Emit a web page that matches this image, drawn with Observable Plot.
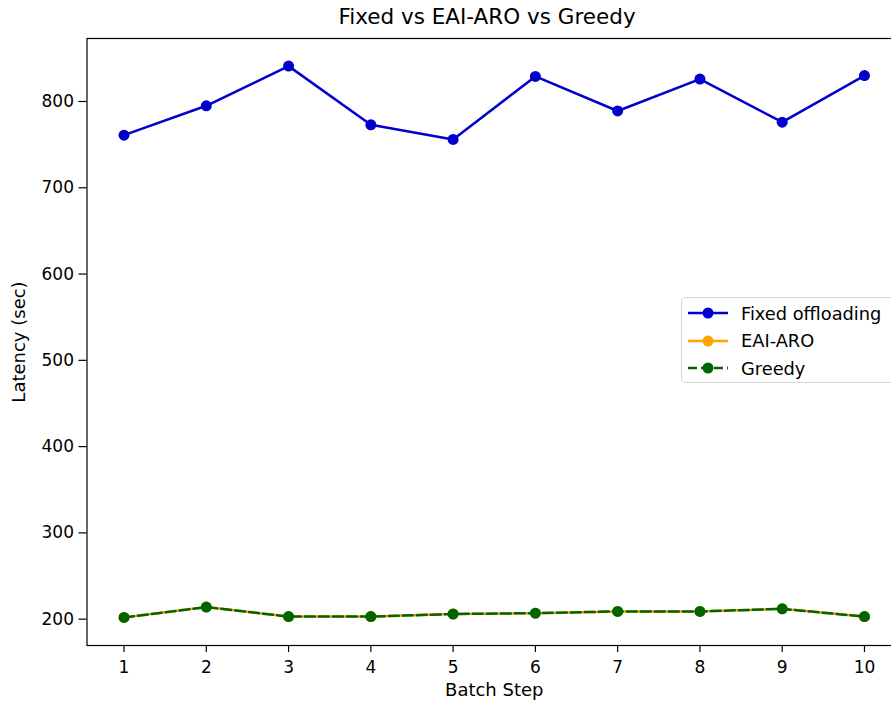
<!DOCTYPE html>
<html>
<head>
<meta charset="utf-8">
<script src="https://cdn.jsdelivr.net/npm/d3@7"></script>
<script src="https://cdn.jsdelivr.net/npm/@observablehq/plot@0.6"></script>
<style>
  html, body { margin: 0; padding: 0; background: #fff; overflow: hidden; }
  #wrap { position: relative; width: 891px; height: 705px; overflow: hidden; font-family: "DejaVu Sans", sans-serif; }
  #title { position: absolute; left: 0; top: 0; width: 974px; height: 30px; text-align: center; font-size: 21.5px; line-height: 34px; color: #000; white-space: nowrap; }
  #chart { position: absolute; left: 0; top: 30px; }
  #legend { position: absolute; left: 681px; top: 297px; width: 240px; height: 86px; border: 1px solid #d5d5d5; border-radius: 4px; background: rgba(255,255,255,0.85); box-sizing: border-box; }
  .row { position: absolute; left: 0; height: 24px; display: flex; align-items: center; font-size: 17.8px; color: #000; white-space: nowrap; }
  .row svg { margin-left: 6px; margin-right: 13px; }
</style>
</head>
<body>
<div id="wrap">
  <div id="title">Fixed vs EAI-ARO vs Greedy</div>
  <div id="chart"></div>
  <div id="legend"></div>
</div>
<script>
const batchSteps = [1, 2, 3, 4, 5, 6, 7, 8, 9, 10];
const fixedLatency = [761, 795, 841, 773, 756, 829, 789, 826, 776, 830];
const eaiAroLatency = [202, 214, 203, 203, 206, 207, 209, 209, 212, 203];
const greedyLatency = [202, 214, 203, 203, 206, 207, 209, 209, 212, 203];
const yTicks = [200, 300, 400, 500, 600, 700, 800];
const seriesNames = ["Fixed offloading", "EAI-ARO", "Greedy"];
const seriesColors = ["mediumblue", "orange", "darkgreen"];
const seriesDash = [null, null, "10,4"];

const fixedData = batchSteps.map((b, i) => ({step: b, latency: fixedLatency[i]}));
const eaiData = batchSteps.map((b, i) => ({step: b, latency: eaiAroLatency[i]}));
const greedyData = batchSteps.map((b, i) => ({step: b, latency: greedyLatency[i]}));

const lw = 2.5, r = 5.5;
const chart = Plot.plot({
  width: 891,
  height: 675,
  marginTop: 8,
  marginBottom: 60,
  marginLeft: 86.5,
  marginRight: -10,
  style: {fontFamily: "DejaVu Sans, sans-serif", color: "#000", background: "#fff", overflow: "hidden"},
  x: {domain: [0.55, 10.45]},
  y: {domain: [169.5, 873]},
  marks: [
    Plot.axisX({ticks: batchSteps, tickFormat: d => String(d), tickSize: 7, tickPadding: 8, fontSize: 17, label: "Batch Step", labelAnchor: "center", labelArrow: "none", labelOffset: 50, stroke: "#000", strokeWidth: 1.2}),
    Plot.axisY({ticks: yTicks, tickSize: 8, tickPadding: 5, fontSize: 17, label: "Latency (sec)", labelAnchor: "center", labelArrow: "none", labelOffset: 75, stroke: "#000", strokeWidth: 1.2}),
    Plot.line(fixedData, {x: "step", y: "latency", stroke: seriesColors[0], strokeWidth: lw}),
    Plot.dot(fixedData, {x: "step", y: "latency", r, fill: seriesColors[0]}),
    Plot.line(eaiData, {x: "step", y: "latency", stroke: seriesColors[1], strokeWidth: lw}),
    Plot.dot(eaiData, {x: "step", y: "latency", r, fill: seriesColors[1]}),
    Plot.line(greedyData, {x: "step", y: "latency", stroke: seriesColors[2], strokeWidth: lw, strokeDasharray: seriesDash[2]}),
    Plot.dot(greedyData, {x: "step", y: "latency", r, fill: seriesColors[2]}),
    Plot.frame({stroke: "#000", strokeWidth: 1.2})
  ]
});
// axis label font size
chart.querySelectorAll("g[aria-label='x-axis label'] text, g[aria-label='y-axis label'] text").forEach(t => t.setAttribute("font-size", "18"));
document.getElementById("chart").appendChild(chart);

const legend = document.getElementById("legend");
seriesNames.forEach((name, i) => {
  const row = document.createElement("div");
  row.className = "row";
  row.style.top = (3 + i * 27.7) + "px";
  const dash = seriesDash[i] ? `stroke-dasharray="9,4"` : "";
  row.innerHTML = `<svg width="40" height="14"><line x1="0" y1="7" x2="40" y2="7" stroke="${seriesColors[i]}" stroke-width="${lw}" ${dash}/><circle cx="20" cy="7" r="${r}" fill="${seriesColors[i]}"/></svg><span>${name}</span>`;
  legend.appendChild(row);
});
</script>
</body>
</html>
